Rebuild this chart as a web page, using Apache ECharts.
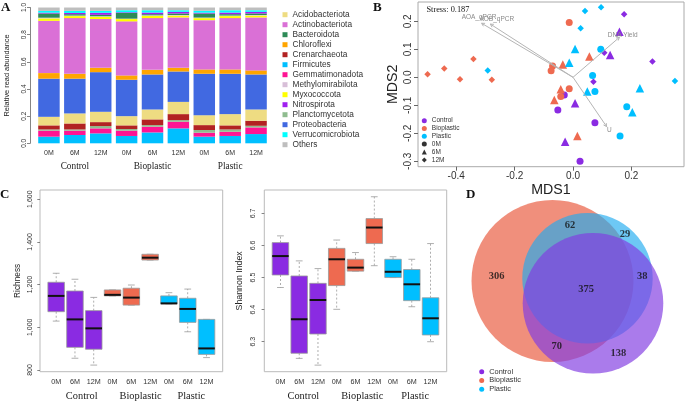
<!DOCTYPE html>
<html><head><meta charset="utf-8">
<script src="https://cdn.jsdelivr.net/npm/echarts@6/dist/echarts.min.js"></script>
<style>html,body{margin:0;padding:0;background:#fff}#c{width:685px;height:405px;pointer-events:none}</style>
</head><body><div id="c"></div>
<script>
var SANS = '"Liberation Sans", Arial, sans-serif';
var SERIF = '"Liberation Serif", "Times New Roman", serif';

// ---------- Panel A: relative abundance ----------
var sampleCats = ['Control 0M','Control 6M','Control 12M','Bioplastic 0M','Bioplastic 6M','Bioplastic 12M','Plastic 0M','Plastic 6M','Plastic 12M'];
var timeLabels = ['0M','6M','12M'];
var groupNames = ['Control','Bioplastic','Plastic'];
var phylaLegend = ['Acidobacteriota','Actinobacteriota','Bacteroidota','Chloroflexi','Crenarchaeota','Firmicutes','Gemmatimonadota','Methylomirabilota','Myxococcota','Nitrospirota','Planctomycetota','Proteobacteria','Verrucomicrobiota','Others'];
var phylaColors = ['#EEDC82','#DA70D6','#2E8B57','#FFA500','#B22222','#00BFFF','#FF1493','#D8BFD8','#FFFF00','#A020F0','#8FBC8F','#4169E1','#00FFFF','#BEBEBE'];
var stackOrder = ['Firmicutes','Gemmatimonadota','Planctomycetota','Crenarchaeota','Acidobacteriota','Proteobacteria','Chloroflexi','Actinobacteriota','Myxococcota','Methylomirabilota','Bacteroidota','Nitrospirota','Verrucomicrobiota','Others'];
var firmicutes        = [.049,.061,.073,.054,.080,.110,.049,.054,.068];
var gemmatimonadota   = [.044,.032,.037,.039,.042,.049,.029,.031,.049];
var planctomycetota   = [.009,.009,.017,.012,.012,.012,.020,.017,.012];
var crenarchaeota     = [.030,.044,.029,.027,.042,.044,.036,.030,.037];
var acidobacteriota   = [.063,.074,.076,.068,.073,.090,.073,.083,.083];
var proteobacteria    = [.281,.256,.292,.268,.258,.224,.305,.297,.258];
var chloroflexi       = [.041,.036,.032,.032,.034,.027,.032,.032,.030];
var actinobacteriota  = [.385,.410,.359,.398,.381,.371,.363,.378,.390];
var myxococcota       = [.018,.015,.017,.017,.017,.014,.015,.015,.014];
var methylomirabilota = [.005,.004,.004,.003,.004,.004,.004,.004,.004];
var bacteroidota      = [.031,.010,.010,.042,.008,.011,.030,.010,.011];
var nitrospirota      = [.006,.009,.015,.005,.012,.012,.006,.012,.012];
var verrucomicrobiota = [.013,.016,.015,.015,.017,.012,.014,.017,.012];
var others            = [.025,.024,.024,.020,.020,.020,.024,.020,.020];
var abundance = {Firmicutes:firmicutes, Gemmatimonadota:gemmatimonadota, Planctomycetota:planctomycetota,
  Crenarchaeota:crenarchaeota, Acidobacteriota:acidobacteriota, Proteobacteria:proteobacteria, Chloroflexi:chloroflexi,
  Actinobacteriota:actinobacteriota, Myxococcota:myxococcota, Methylomirabilota:methylomirabilota, Bacteroidota:bacteroidota,
  Nitrospirota:nitrospirota, Verrucomicrobiota:verrucomicrobiota, Others:others};
var abundanceTicks = [0, 0.2, 0.4, 0.6, 0.8, 1.0];

// ---------- Panel B: NMDS ----------
var groupColors = ['#8A2BE2','#EE6A50','#00BFFF'];
var controlPts = [
  [0.024,-0.300,0],[-0.030,-0.063,0],[-0.052,-0.117,0],[0.075,-0.162,0],
  [0.159,0.163,1],[0.127,0.080,1],[0.007,-0.093,1],[-0.027,-0.230,1],
  [0.175,0.225,2],[0.107,0.088,2],[0.272,0.056,2],[0.070,-0.016,2]];
var bioplasticPts = [
  [-0.013,0.196,0],[-0.070,0.040,0],[-0.075,0.023,0],[-0.013,-0.041,0],[-0.042,-0.069,0],
  [-0.035,0.046,1],[0.056,0.074,1],[-0.042,-0.043,1],[-0.064,-0.081,1],[0.015,-0.210,1],
  [-0.498,0.011,2],[-0.441,0.031,2],[-0.387,-0.007,2],[-0.341,0.065,2],[-0.278,-0.009,2]];
var plasticPts = [
  [0.095,0.100,0],[0.067,0.006,0],[0.075,-0.051,0],[0.184,-0.105,0],[0.161,-0.210,0],
  [0.007,0.101,1],[-0.013,0.052,1],[0.049,-0.051,1],[0.229,-0.039,1],[0.203,-0.125,1],
  [0.041,0.237,2],[0.096,0.250,2],[0.026,0.175,2],[0.349,-0.013,2],[-0.292,0.024,2]];
var envNames = ['AOA_qPCR','AOB_qPCR','DNA Yield','U'];
var envEnd = [[-0.313,0.193],[-0.283,0.190],[0.159,0.143],[0.115,-0.176]];
var envLabel = [[-0.322,0.216],[-0.261,0.207],[0.170,0.151],[0.124,-0.189]];
var mds1Ticks = [-0.4,-0.2,0.0,0.2];
var mds2Ticks = [-0.3,-0.2,-0.1,0.0,0.1,0.2];
var stressText = 'Stress: 0.187';

// ---------- Panel C: alpha diversity (min, Q1, median, Q3, max) ----------
var richness = [
  [1029,1073,1147,1211,1253],[855,906,1037,1170,1225],[823,897,995,1078,1140],
  [1147,1147,1152,1175,1175],[1104,1104,1139,1183,1198],[1315,1315,1326,1342,1342],
  [1110,1110,1112,1147,1162],[979,1023,1086,1136,1179],[858,873,901,1037,1037]];
var richnessOutliers = [[4,1266],[4,922],[5,987],[6,1612],[6,1206],[7,953],[9,1320]];
var shannon = [
  [6.469,6.508,6.567,6.609,6.630],[6.248,6.264,6.370,6.505,6.552],[6.227,6.324,6.430,6.482,6.528],
  [6.401,6.475,6.557,6.591,6.617],[6.520,6.520,6.531,6.557,6.578],[6.537,6.606,6.656,6.684,6.752],
  [6.500,6.500,6.518,6.557,6.565],[6.409,6.428,6.479,6.525,6.557],[6.300,6.321,6.373,6.437,6.606]];
var shannonOutliers = [[5,6.432],[7,6.364]];
var richnessTicks = [800,1000,1200,1400,1600];
var shannonTicks = [6.3,6.4,6.5,6.6,6.7];
var boxPositions = [1,2,3,4,5,6,7,8,9];
var richGroupPos = [2.36,5.49,8.19];
var shanGroupPos = [2.22,5.36,8.18];

// ---------- Panel D: Venn ----------
var vennSets = ['Bioplastic','Plastic','Control'];
var vennCentres = [[92.5,91],[127.5,88.3],[133,113.3]];
var vennRadii = [81,65.2,70.3];
var vennFill = ['rgba(235,105,80,0.75)','rgba(30,170,240,0.65)','rgba(130,60,225,0.68)'];
var vennCounts = [306,62,29,38,375,70,138];
var vennCountPos = [[36.7,86.7],[110,35],[165,44],[182.3,86.7],[126,99.3],[96.7,156.7],[158.3,163.3]];

// ================= build =================
var chart = echarts.init(document.getElementById('c'), null, {renderer:'canvas'});
var series = [];

stackOrder.forEach(function(name){
  series.push({type:'bar', name:name, stack:'abund', xAxisIndex:0, yAxisIndex:0, barWidth:'83%',
    itemStyle:{color:phylaColors[phylaLegend.indexOf(name)]}, data:abundance[name]});
});

var timeSymbols = ['circle','triangle','diamond'];
var timeSizes = [7,8.5,6.5];
[controlPts,bioplasticPts,plasticPts].forEach(function(pts,gi){
  series.push({type:'scatter', name:groupNames[gi], xAxisIndex:2, yAxisIndex:1, symbol:'circle',
    itemStyle:{color:groupColors[gi], opacity:1}, z:3,
    data:pts.map(function(p){return {value:[p[0],p[1]], symbol:timeSymbols[p[2]], symbolSize:timeSizes[p[2]]};})});
});
timeLabels.forEach(function(t,i){
  series.push({type:'scatter', name:t, xAxisIndex:2, yAxisIndex:1, symbol:timeSymbols[i], itemStyle:{color:'#000'}, data:[]});
});
series.push({type:'custom', xAxisIndex:2, yAxisIndex:1, z:4, itemStyle:{color:'#b5b5b5'},
  data: envEnd.map(function(e,i){return [e[0],e[1],envLabel[i][0],envLabel[i][1]];}),
  renderItem:function(params, api){
    var o = api.coord([0,0]);
    var e = api.coord([api.value(0), api.value(1)]);
    var l = api.coord([api.value(2), api.value(3)]);
    var ang = Math.atan2(e[1]-o[1], e[0]-o[0]), h = 3.5;
    var a1 = [e[0]-h*Math.cos(ang-0.5), e[1]-h*Math.sin(ang-0.5)];
    var a2 = [e[0]-h*Math.cos(ang+0.5), e[1]-h*Math.sin(ang+0.5)];
    return {type:'group', children:[
      {type:'line', shape:{x1:o[0],y1:o[1],x2:e[0],y2:e[1]}, style:{stroke:'#b5b5b5', lineWidth:1}},
      {type:'polyline', shape:{points:[a1,e,a2]}, style:{stroke:'#b5b5b5', fill:null, lineWidth:1}},
      {type:'text', x:l[0], y:l[1], style:{text:envNames[params.dataIndex], fill:'#8a8a8a', fontSize:6.5, fontFamily:SANS, align:'center', verticalAlign:'middle'}}
    ]};
  }});

var BOX_HALF = 0.44, CAP_HALF = 0.18;
function boxRender(params, api){
  var x = api.value(0), g = api.value(6);
  var pMax = api.coord([x, api.value(5)]), pQ3 = api.coord([x, api.value(4)]);
  var pMed = api.coord([x, api.value(3)]), pQ1 = api.coord([x, api.value(2)]), pMin = api.coord([x, api.value(1)]);
  var L = api.coord([x-BOX_HALF, api.value(3)])[0], R = api.coord([x+BOX_HALF, api.value(3)])[0];
  var cl = api.coord([x-CAP_HALF, api.value(3)])[0], cr = api.coord([x+CAP_HALF, api.value(3)])[0];
  var cx = pMed[0];
  var ws = {stroke:'#9a9a9a', lineWidth:0.8, lineDash:[2,2]}, cs = {stroke:'#9a9a9a', lineWidth:0.8};
  var ch = [];
  if (pQ3[1]-pMax[1] > 0.5) ch.push({type:'line', shape:{x1:cx,y1:pQ3[1],x2:cx,y2:pMax[1]}, style:ws});
  if (pMin[1]-pQ1[1] > 0.5) ch.push({type:'line', shape:{x1:cx,y1:pQ1[1],x2:cx,y2:pMin[1]}, style:ws});
  ch.push({type:'line', shape:{x1:cl,y1:pMax[1],x2:cr,y2:pMax[1]}, style:cs});
  ch.push({type:'line', shape:{x1:cl,y1:pMin[1],x2:cr,y2:pMin[1]}, style:cs});
  ch.push({type:'rect', shape:{x:L, y:pQ3[1], width:R-L, height:Math.max(pQ1[1]-pQ3[1],1)}, style:{fill:groupColors[g], stroke:'#9a9a9a', lineWidth:0.8}});
  ch.push({type:'line', shape:{x1:L,y1:pMed[1],x2:R,y2:pMed[1]}, style:{stroke:'#111', lineWidth:2}});
  return {type:'group', children:ch};
}
function boxData(stats){
  return stats.map(function(s,i){return [boxPositions[i], s[0], s[1], s[2], s[3], s[4], Math.floor(i/3)];});
}
series.push({type:'custom', xAxisIndex:3, yAxisIndex:2, itemStyle:{color:'#999'}, renderItem:boxRender, data:boxData(richness)});
series.push({type:'scatter', xAxisIndex:3, yAxisIndex:2, symbol:'emptyCircle', symbolSize:4.5,
  itemStyle:{color:'#fff', borderColor:'#9a9a9a', borderWidth:0.8}, data:richnessOutliers});
series.push({type:'custom', xAxisIndex:5, yAxisIndex:3, itemStyle:{color:'#999'}, renderItem:boxRender, data:boxData(shannon)});
series.push({type:'scatter', xAxisIndex:5, yAxisIndex:3, symbol:'emptyCircle', symbolSize:4.5,
  itemStyle:{color:'#fff', borderColor:'#9a9a9a', borderWidth:0.8}, data:shannonOutliers});

series.push({type:'custom', xAxisIndex:7, yAxisIndex:4, itemStyle:{color:'#999'},
  data: vennCentres.map(function(c,i){return [c[0],c[1],vennRadii[i]];}),
  renderItem:function(params, api){
    var c = api.coord([api.value(0), api.value(1)]);
    var r = api.size([api.value(2), 0])[0];
    return {type:'circle', shape:{cx:c[0], cy:c[1], r:r}, style:{fill:vennFill[params.dataIndex], stroke:null}};
  }});
series.push({type:'scatter', xAxisIndex:7, yAxisIndex:4, symbolSize:0, z:5, itemStyle:{color:'#111'},
  data: vennCountPos.map(function(p,i){return [p[0],p[1],vennCounts[i]];}),
  label:{show:true, position:'inside', formatter:function(p){return String(p.value[2]);},
    fontFamily:SERIF, fontWeight:'bold', fontSize:10.5, color:'#111'}});

// static figure: no hover / emphasis states
series.forEach(function(s){ s.silent = true; s.emphasis = {disabled:true}; });

function f1(v){ return Number(v).toFixed(1); }
function nearestName(v, arr){ var b=0; arr.forEach(function(a,i){ if(Math.abs(a-v)<Math.abs(arr[b]-v)) b=i; }); return groupNames[b]; }
var axisGrey = '#666';
var noLine = {show:false, onZero:false};

var option = {
  animation:false,
  backgroundColor:'#fff',
  textStyle:{fontFamily:SANS},
  grid:[
    {left:36, top:6.7, width:233, height:136.6},
    {left:418, top:2, width:266, height:164.7, show:true, borderColor:'#aaa', borderWidth:1},
    {left:40, top:190, width:182.7, height:181.7, show:true, borderColor:'#bbb', borderWidth:1},
    {left:264.3, top:190, width:182.4, height:181.7, show:true, borderColor:'#bbb', borderWidth:1},
    {left:460, top:190, width:225, height:215}
  ],
  xAxis:[
    {type:'category', gridIndex:0, data:sampleCats, axisLine:noLine, axisTick:{show:false},
      axisLabel:{formatter:function(v,i){return timeLabels[i%3];}, fontSize:7, color:'#333', margin:6.5}},
    {type:'category', gridIndex:0, position:'bottom', data:groupNames, axisLine:noLine, axisTick:{show:false},
      axisLabel:{fontFamily:SERIF, fontSize:9.3, color:'#222', margin:19}},
    {type:'value', gridIndex:1, min:-0.5308, max:0.380, splitLine:{show:false}, axisLine:noLine,
      axisTick:{show:true, length:4, lineStyle:{color:axisGrey}, customValues:mds1Ticks},
      axisLabel:{customValues:mds1Ticks, formatter:f1, fontSize:10, color:'#333', margin:5},
      name:'MDS1', nameLocation:'middle', nameGap:15, nameTextStyle:{fontSize:14.2, color:'#222'}},
    {type:'value', gridIndex:2, min:0.14, max:9.86, splitLine:{show:false}, axisLine:noLine, axisTick:{show:false},
      axisLabel:{customValues:boxPositions, formatter:function(v){return timeLabels[(Math.round(v)-1)%3];}, fontSize:7.2, color:'#333', margin:7.3}},
    {type:'value', gridIndex:2, position:'bottom', min:0.14, max:9.86, splitLine:{show:false}, axisLine:noLine, axisTick:{show:false},
      axisLabel:{customValues:richGroupPos, formatter:function(v){return nearestName(v, richGroupPos);}, fontFamily:SERIF, fontSize:10.4, color:'#222', margin:19.8}},
    {type:'value', gridIndex:3, min:0.14, max:9.86, splitLine:{show:false}, axisLine:noLine, axisTick:{show:false},
      axisLabel:{customValues:boxPositions, formatter:function(v){return timeLabels[(Math.round(v)-1)%3];}, fontSize:7.2, color:'#333', margin:7.3}},
    {type:'value', gridIndex:3, position:'bottom', min:0.14, max:9.86, splitLine:{show:false}, axisLine:noLine, axisTick:{show:false},
      axisLabel:{customValues:shanGroupPos, formatter:function(v){return nearestName(v, shanGroupPos);}, fontFamily:SERIF, fontSize:10.4, color:'#222', margin:19.8}},
    {type:'value', gridIndex:4, min:0, max:225, show:false}
  ],
  yAxis:[
    {type:'value', gridIndex:0, min:0, max:1, offset:6, splitLine:{show:false},
      axisLine:{show:true, onZero:false, lineStyle:{color:axisGrey, width:0.8}},
      axisTick:{show:true, length:3, lineStyle:{color:axisGrey, width:0.8}, customValues:abundanceTicks},
      axisLabel:{customValues:abundanceTicks, formatter:f1, rotate:90, fontSize:6.5, color:'#333', margin:2},
      name:'Relative read abundance', nameLocation:'middle', nameGap:20, nameTextStyle:{fontSize:7.4, color:'#222'}},
    {type:'value', gridIndex:1, min:-0.3193, max:0.2689, splitLine:{show:false}, axisLine:noLine,
      axisTick:{show:true, length:4, lineStyle:{color:axisGrey}, customValues:mds2Ticks},
      axisLabel:{customValues:mds2Ticks, formatter:f1, rotate:90, fontSize:10, color:'#333', margin:5},
      name:'MDS2', nameLocation:'middle', nameGap:18, nameTextStyle:{fontSize:14.2, color:'#222'}},
    {type:'value', gridIndex:2, min:792, max:1643, splitLine:{show:false}, axisLine:noLine,
      axisTick:{show:true, length:2.7, lineStyle:{color:axisGrey, width:0.8}, customValues:richnessTicks},
      axisLabel:{customValues:richnessTicks, rotate:90, fontSize:7, color:'#333', margin:6.5},
      name:'Richness', nameLocation:'middle', nameGap:18, nameTextStyle:{fontSize:8.3, color:'#222'}},
    {type:'value', gridIndex:3, min:6.2065, max:6.773, splitLine:{show:false}, axisLine:noLine,
      axisTick:{show:true, length:2.7, lineStyle:{color:axisGrey, width:0.8}, customValues:shannonTicks},
      axisLabel:{customValues:shannonTicks, formatter:f1, rotate:90, fontSize:7, color:'#333', margin:7.5},
      name:'Shannon Index', nameLocation:'middle', nameGap:20, nameTextStyle:{fontSize:8.8, color:'#222'}},
    {type:'value', gridIndex:4, min:0, max:215, inverse:true, show:false}
  ],
  legend:[
    {data:phylaLegend, orient:'vertical', left:282.5, top:9.7, padding:0, itemGap:0, itemWidth:5, itemHeight:5, icon:'rect', selectedMode:false,
      textStyle:{fontSize:8.3, lineHeight:10, color:'#333'}},
    {data:groupNames, orient:'vertical', left:421.8, top:116.8, padding:0, itemGap:0, itemWidth:5, itemHeight:5, icon:'circle', selectedMode:false,
      textStyle:{fontSize:6.5, lineHeight:7.8, color:'#333'}},
    {data:timeLabels, orient:'vertical', left:421.8, top:140, padding:0, itemGap:0, itemWidth:5, itemHeight:5, selectedMode:false,
      textStyle:{fontSize:6.5, lineHeight:8, color:'#333'}},
    {data:groupNames, orient:'vertical', left:479.2, top:367.4, padding:0, itemGap:0, itemWidth:5, itemHeight:5, icon:'circle', selectedMode:false,
      textStyle:{fontSize:7.4, lineHeight:8.7, color:'#333'}}
  ],
  graphic:[
    {type:'text', left:1, top:1, silent:true, style:{text:'A', font:'bold 13px '+SERIF, fill:'#111'}},
    {type:'text', left:373, top:1, silent:true, style:{text:'B', font:'bold 13px '+SERIF, fill:'#111'}},
    {type:'text', left:0, top:188, silent:true, style:{text:'C', font:'bold 13px '+SERIF, fill:'#111'}},
    {type:'text', left:466, top:188, silent:true, style:{text:'D', font:'bold 13px '+SERIF, fill:'#111'}},
    {type:'text', left:426.5, top:5.5, silent:true, style:{text:stressText, font:'8.3px '+SERIF, fill:'#111'}}
  ],
  series:series
};
chart.setOption(option);
</script></body></html>
